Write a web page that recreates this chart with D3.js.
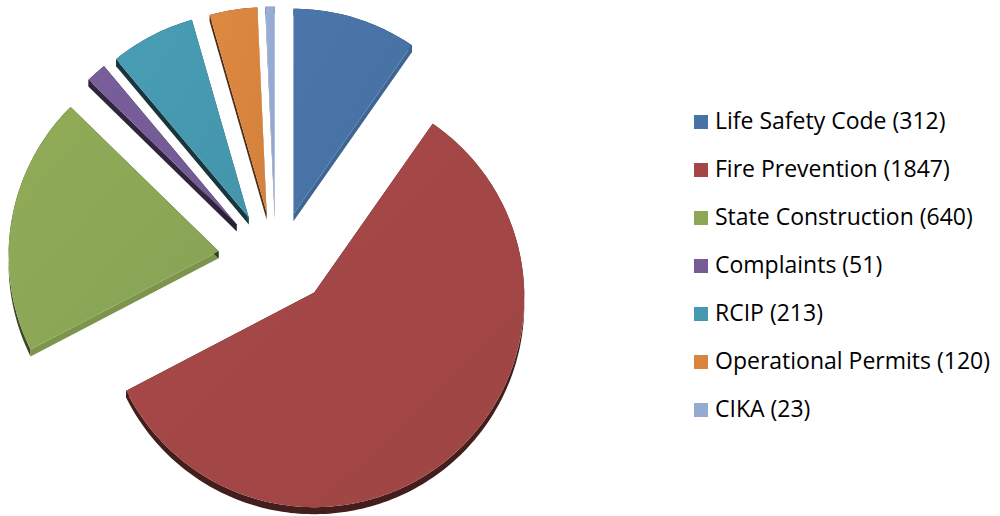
<!DOCTYPE html>
<html>
<head>
<meta charset="utf-8">
<script src="https://cdn.jsdelivr.net/npm/d3@7"></script>
<style>
	body { margin: 0; background: #fff; }
	svg { display: block; }
</style>
</head>
<body>
<div class="chart"></div>
<script>
// inspection categories and counts
const labels = ['Life Safety Code', 'Fire Prevention', 'State Construction', 'Complaints', 'RCIP', 'Operational Permits', 'CIKA']
const values = [312, 1847, 640, 51, 213, 120, 23]
const colors = ['#4873a6', '#a34746', '#8ca756', '#755c96', '#4699b0', '#d9853f', '#94aad2']

const width = 1000
const height = 516
const svg = d3.select('.chart')
	.append('svg')
	.attr('width', width)
	.attr('height', height)
	.attr('viewBox', [0, 0, width, height])

// pie geometry (slightly tilted, every slice pulled out)
const cx = 276, cy = 258
const rx = 210, ry = 210
const ex = 58, ey = 46
const persp = 0.022 // far (top) side drawn a bit smaller
const depth = 7

const pie = d3.pie().sort(null).value(d => d)
const arcs = pie(values).map((a, i) => ({...a, label: labels[i], color: colors[i]}))

// scale from unit pie radius to screen
const sx = d3.scaleLinear().domain([-1, 1]).range([-rx, rx])
const sy = d3.scaleLinear().domain([-1, 1]).range([-ry, ry])

function topFace(a) {
	const mid = (a.startAngle + a.endAngle) / 2
	const ox = cx + ex * Math.sin(mid)
	const oy = cy - ey * Math.cos(mid)
	const pts = [[ox, oy]]
	const n = Math.max(2, Math.ceil((a.endAngle - a.startAngle) / 0.02))
	for (let k = 0; k <= n; k++) {
		const t = a.startAngle + (a.endAngle - a.startAngle) * k / n
		const f = 1 - persp * Math.cos(t)
		pts.push([ox + sx(f * Math.sin(t)), oy - sy(f * Math.cos(t))])
	}
	return pts
}

const shade = (c, f) => {
	const col = d3.rgb(c)
	return d3.rgb(col.r * f, col.g * f, col.b * f).formatHex()
}

const line = d3.line()

// side faces first
const sides = svg.append('g')
arcs.forEach(a => {
	const pts = topFace(a)
	const m = pts.length
	// radial face at the start edge
	const nStart = a.startAngle - Math.PI / 2
	const fStart = 0.35 + 0.55 * Math.max(0, Math.cos(nStart - 140 * Math.PI / 180))
	// radial face at the end edge
	const nEnd = a.endAngle + Math.PI / 2
	const fEnd = 0.35 + 0.55 * Math.max(0, Math.cos(nEnd - 140 * Math.PI / 180))
	// outer rim
	const rim = pts.slice(1).concat(pts.slice(1).reverse().map(p => [p[0], p[1] + depth]))
	sides.append('path')
		.attr('d', line(rim) + 'Z')
		.attr('fill', shade(a.color, 0.42))
	const quad = (p, q, f) => sides.append('path')
		.attr('d', line([p, q, [q[0], q[1] + depth], [p[0], p[1] + depth]]) + 'Z')
		.attr('fill', shade(a.color, f))
	quad(pts[0], pts[1], fStart)
	quad(pts[m - 1], pts[0], fEnd)
})

// top faces
const grad = svg.append('defs')
arcs.forEach((a, i) => {
	const g = grad.append('linearGradient')
		.attr('id', 'g' + i)
		.attr('x1', 0).attr('y1', 0).attr('x2', 1).attr('y2', 1)
	g.append('stop').attr('offset', 0).attr('stop-color', d3.rgb(a.color).brighter(0.08))
	g.append('stop').attr('offset', 1).attr('stop-color', d3.rgb(a.color).darker(0.08))
})
svg.append('g')
	.selectAll('path')
	.data(arcs)
	.enter()
	.append('path')
	.attr('d', d => line(topFace(d)) + 'Z')
	.attr('fill', (d, i) => 'url(#g' + i + ')')

// legend
const legend = svg.append('g')
	.selectAll('g')
	.data(arcs)
	.enter()
	.append('g')
	.attr('transform', (d, i) => `translate(694, ${129 + 48 * i})`)

legend.append('rect')
	.attr('x', 0)
	.attr('y', -14)
	.attr('width', 14)
	.attr('height', 14)
	.attr('fill', d => d.color)

legend.append('text')
	.text(d => d.label + ' (' + d.value + ')')
	.attr('x', 21)
	.attr('y', 0)
	.attr('font-family', '"Open Sans", sans-serif')
	.attr('font-size', '23px')
	.attr('fill', '#000')
</script>
</body>
</html>
